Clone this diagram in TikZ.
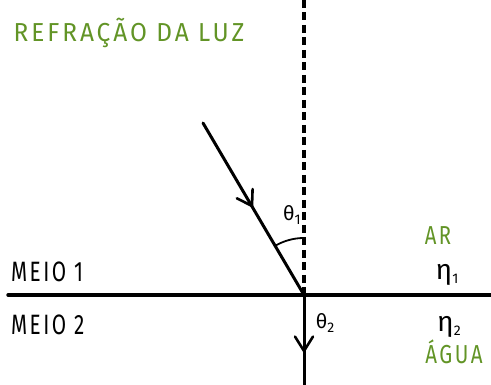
\documentclass[tikz,border=0pt]{standalone}
\usepackage{fontspec}
\setmainfont{Fira Sans}[LetterSpace=12]
\newfontfamily\greekfont{Fira Sans}
\definecolor{leaf}{RGB}{98,148,38}
\newcommand{\sublow}[1]{\raisebox{-4pt}{\fontsize{14}{14}\selectfont #1}}
\tikzset{
  ray/.style={line width=3pt,line cap=round},
  barb/.style={line width=2.6pt,line cap=round,line join=round},
  green label/.style={text=leaf,font=\fontsize{26}{26}\selectfont,inner sep=0pt,transform shape},
  black label/.style={text=black,font=\fontsize{28}{28}\selectfont,inner sep=0pt,transform shape},
  eta/.style={inner sep=0pt,font=\greekfont\fontsize{28}{28}\selectfont},
  angle label/.style={inner sep=0pt,font=\greekfont\fontsize{20}{20}\selectfont}
}
\begin{document}
\begin{tikzpicture}[x=1pt,y=1pt]
\useasboundingbox (0,0) rectangle (491,385);
\coordinate (O) at (304,90);
\coordinate (top) at (304,385);
\coordinate (left) at (8,90);
\coordinate (right) at (491,90);
\coordinate (src) at (203,262);
\coordinate (bottom) at (304,0);
\coordinate (tipA) at (252,179);
\coordinate (tipB) at (304,34);
% interface
\draw[ray,line width=3.4pt] (left) -- (right);
% normal
\draw[line width=3.4pt,dash pattern=on 8pt off 4.5pt] (top) -- (O);
% incident ray
\draw[ray] (src) -- (O);
\draw[barb] ([shift={(153:17)}]tipA) -- (tipA) -- ([shift={(88:17)}]tipA);
% refracted ray
\draw[ray] (O) -- (bottom);
\draw[barb] ([shift={(122:17)}]tipB) -- (tipB) -- ([shift={(58:17)}]tipB);
% angle arc
\draw[line width=1.8pt] ([shift={(90:57)}]O) arc[start angle=90,end angle=120.4,radius=57];
% labels
\node[green label,xscale=0.94] (title) at (129,352) {REFRAÇÃO DA LUZ};
\node[angle label] (t1) at (292,170) {θ\sublow{1}};
\node[angle label] (t2) at (325,62) {θ\sublow{2}};
\node[black label,anchor=west,xscale=0.74] (m1) at (11,113) {MEIO 1};
\node[black label,anchor=west,xscale=0.74] (m2) at (11,60) {MEIO 2};
\node[green label,xscale=0.78] (ar) at (438,149) {AR};
\node[eta] (n1) at (447,110) {η\sublow{1}};
\node[eta] (n2) at (449,58) {η\sublow{2}};
\node[green label,xscale=0.79] (agua) at (454,33) {ÁGUA};
\end{tikzpicture}
\end{document}
